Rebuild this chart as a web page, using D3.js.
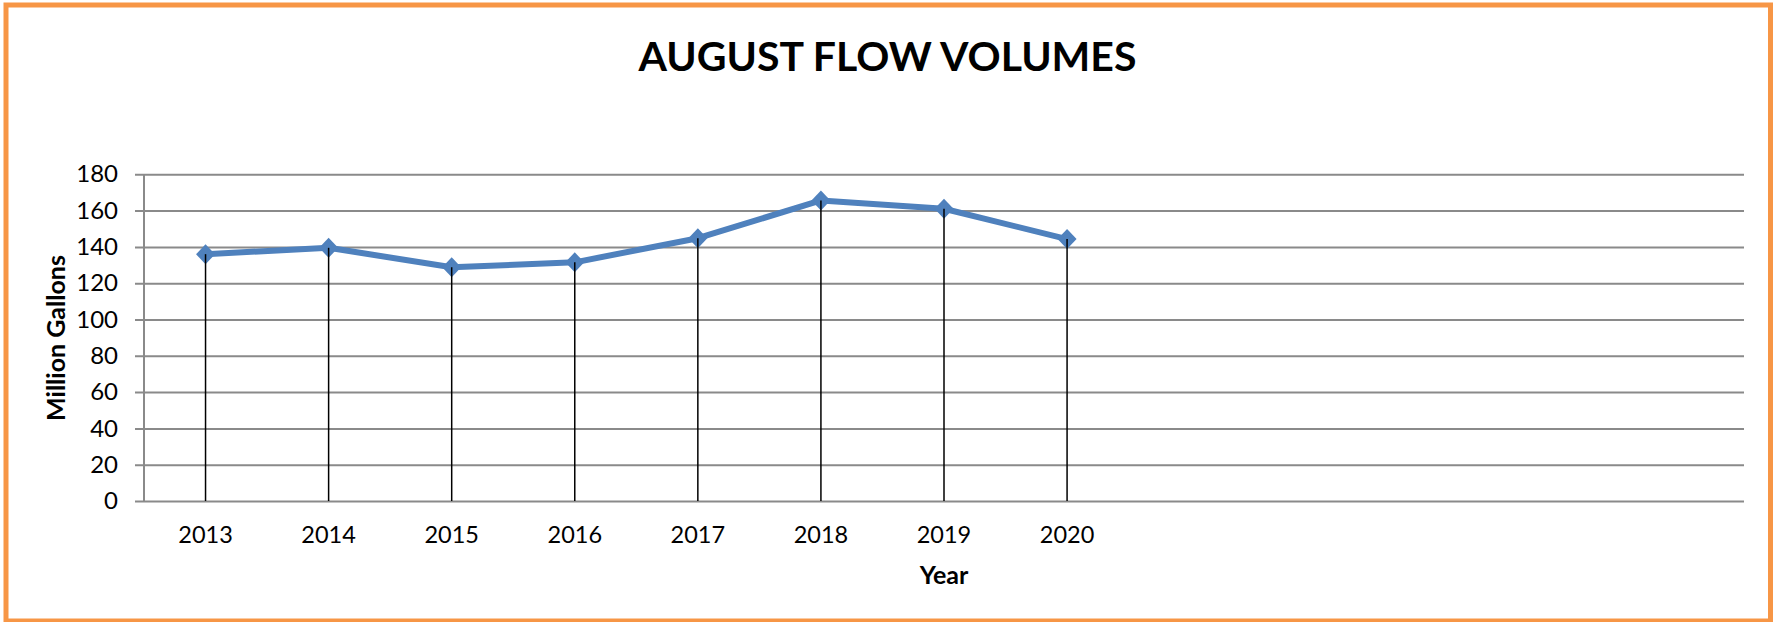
<!DOCTYPE html>
<html>
<head>
<meta charset="utf-8">
<style>
  html, body { margin: 0; padding: 0; background: #fff; }
  svg { display: block; font-family: Lato, "Open Sans", sans-serif; }
</style>
</head>
<body>
<div id="chart"></div>
<script src="https://d3js.org/d3.v7.min.js"></script>
<script>
// chart data
var categories = ["2013", "2014", "2015", "2016", "2017", "2018", "2019", "2020", "", "", "", "", ""];
var years = ["2013", "2014", "2015", "2016", "2017", "2018", "2019", "2020"];
var flows = [136, 139.5, 128.8, 131.5, 144.8, 165.6, 161, 144.3];
var yTicks = [0, 20, 40, 60, 80, 100, 120, 140, 160, 180];

var W = 1775, H = 622;
var plot = { left: 144, right: 1744, top: 174.3, bottom: 501 };

var svg = d3.select("#chart")
  .append("svg")
  .attr("width", W)
  .attr("height", H);

// orange frame
svg.append("rect")
  .attr("x", 6)
  .attr("y", 5)
  .attr("width", W - 10.5)
  .attr("height", H - 6)
  .attr("fill", "#fff")
  .attr("stroke", "#F79646")
  .attr("stroke-width", 5);

// scales
var x = d3.scaleBand()
  .domain(d3.range(categories.length))
  .range([plot.left, plot.right]);

var y = d3.scaleLinear()
  .domain([0, 180])
  .range([plot.bottom, plot.top]);

// horizontal gridlines + y labels
var yAxis = svg.append("g")
  .attr("transform", "translate(" + plot.left + ",0)")
  .call(d3.axisLeft(y)
    .tickValues(yTicks)
    .tickSizeInner(-(plot.right - plot.left))
    .tickSizeOuter(0)
    .tickPadding(26));

yAxis.select(".domain").remove();
yAxis.selectAll("line")
  .attr("x1", -9)
  .attr("stroke", "#8a8a8a")
  .attr("stroke-width", 2);
yAxis.selectAll("text")
  .attr("fill", "#000")
  .style("font-size", "24px")
  .style("font-family", "Lato, sans-serif");

// vertical axis line
svg.append("line")
  .attr("x1", plot.left).attr("x2", plot.left)
  .attr("y1", y(180)).attr("y2", y(0))
  .attr("stroke", "#8a8a8a")
  .attr("stroke-width", 2);

// x axis labels
var xAxis = svg.append("g")
  .attr("transform", "translate(0," + plot.bottom + ")")
  .call(d3.axisBottom(x)
    .tickFormat(function(i) { return categories[i]; })
    .tickSize(0)
    .tickPadding(25));

xAxis.select(".domain").remove();
xAxis.selectAll("text")
  .attr("fill", "#000")
  .style("font-size", "23.5px")
  .style("font-family", "Lato, sans-serif");

var data = years.map(function(yr, i) {
  return { idx: categories.indexOf(yr), v: flows[i] };
});

function cx(d) { return x(d.idx) + x.bandwidth() / 2; }

// series line
var line = d3.line()
  .x(cx)
  .y(function(d) { return y(d.v); });

svg.append("path")
  .datum(data)
  .attr("fill", "none")
  .attr("stroke", "#4F81BD")
  .attr("stroke-width", 6)
  .attr("stroke-linejoin", "round")
  .attr("d", line);

// diamond markers
svg.selectAll(".marker")
  .data(data)
  .enter()
  .append("path")
  .attr("class", "marker")
  .attr("d", "M0,-10L9.5,0L0,10L-9.5,0Z")
  .attr("transform", function(d) { return "translate(" + cx(d) + "," + y(d.v) + ")"; })
  .attr("fill", "#4F81BD");

// drop lines
svg.selectAll(".drop")
  .data(data)
  .enter()
  .append("line")
  .attr("class", "drop")
  .attr("x1", cx).attr("x2", cx)
  .attr("y1", function(d) { return y(d.v); })
  .attr("y2", y(0))
  .attr("stroke", "#000")
  .attr("stroke-width", 1.5);

// titles
svg.append("text")
  .attr("x", W / 2)
  .attr("y", 71)
  .attr("text-anchor", "middle")
  .style("font-size", "41px")
  .style("font-weight", "bold")
  .text("AUGUST FLOW VOLUMES");

svg.append("text")
  .attr("transform", "rotate(-90)")
  .attr("x", -338)
  .attr("y", 65)
  .attr("text-anchor", "middle")
  .style("font-size", "25px")
  .style("font-weight", "bold")
  .text("Million Gallons");

svg.append("text")
  .attr("x", (plot.left + plot.right) / 2)
  .attr("y", 584)
  .attr("text-anchor", "middle")
  .style("font-size", "25px")
  .style("font-weight", "bold")
  .text("Year");
</script>
</body>
</html>
